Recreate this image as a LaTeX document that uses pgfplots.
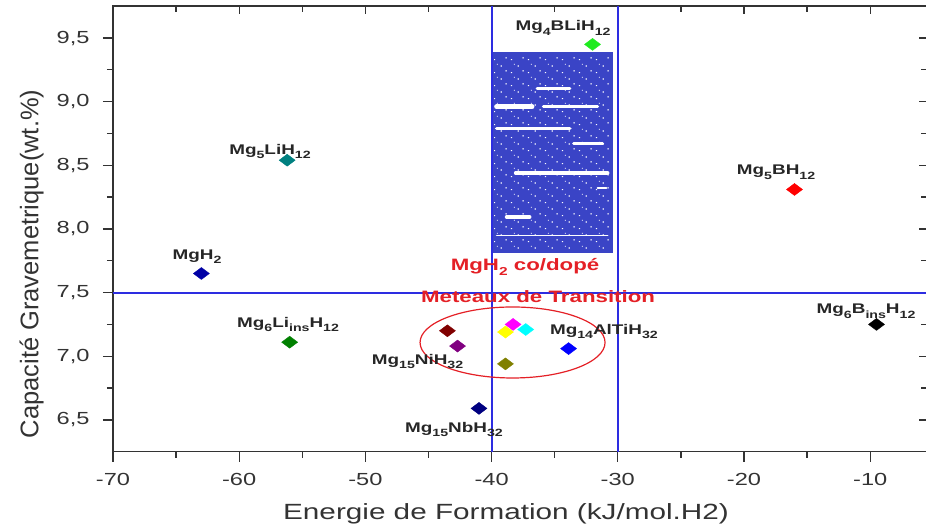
\documentclass[border=0pt]{standalone}
\usepackage{pgfplots}
\pgfplotsset{compat=1.18}
\usepackage{fontspec}
\setmainfont{Liberation Sans}[FakeStretch=1.35]
\newfontfamily\plainsans{Liberation Sans}
\usetikzlibrary{patterns}

\definecolor{guide}{RGB}{45,45,225}
\definecolor{zone}{RGB}{58,68,198}
\definecolor{annot}{RGB}{228,32,38}
\definecolor{cLime}{RGB}{30,235,30}
\definecolor{cTeal}{RGB}{0,128,128}
\definecolor{cDkBlue}{RGB}{0,0,165}
\definecolor{cRed}{RGB}{255,0,0}
\definecolor{cGreen}{RGB}{0,128,0}
\definecolor{cMaroon}{RGB}{128,0,0}
\definecolor{cPurple}{RGB}{128,0,128}
\definecolor{cMagenta}{RGB}{255,0,255}
\definecolor{cYellow}{RGB}{255,255,0}
\definecolor{cCyan}{RGB}{0,255,255}
\definecolor{cBlue}{RGB}{0,0,255}
\definecolor{cOlive}{RGB}{128,128,0}
\definecolor{cNavy}{RGB}{0,0,128}

% subscripts for the formula labels
\newcommand\sub[1]{\raisebox{-0.3em}{\fontsize{10.5}{10}\selectfont #1}}
\newcommand\subR[1]{\raisebox{-0.3em}{\fontsize{11.5}{11}\selectfont #1}}

% sparse white speckles for the shaded zone
\pgfdeclarepatternformonly{speckle}{\pgfpointorigin}{\pgfqpoint{17pt}{13pt}}{\pgfqpoint{17pt}{13pt}}{%
  \pgfpathrectangle{\pgfqpoint{1pt}{2pt}}{\pgfqpoint{1.2pt}{1.2pt}}%
  \pgfpathrectangle{\pgfqpoint{8pt}{9pt}}{\pgfqpoint{1.2pt}{1.2pt}}%
  \pgfpathrectangle{\pgfqpoint{13pt}{4pt}}{\pgfqpoint{1.6pt}{1pt}}%
  \pgfpathrectangle{\pgfqpoint{4pt}{11pt}}{\pgfqpoint{1pt}{1pt}}%
  \pgfusepath{fill}}

\tikzset{
  lbl/.style={font=\fontsize{14}{16}\selectfont\bfseries, text=black!85, inner sep=0pt},
  redlbl/.style={font=\fontsize{16.5}{19}\selectfont\bfseries, text=annot, inner sep=0pt},
}
\pgfplotsset{
  pt/.style={only marks, mark=diamond*, mark size=8pt,
    mark options={rotate=90, draw=#1, fill=#1}},
  frame/.style={scale only axis, width=814pt, height=445.5pt,
    xmin=-70, xmax=-5.5, ymin=6.25, ymax=9.75,
    xtick={-70,-60,-50,-40,-30,-20,-10},
    ytick={6.5,7,7.5,8,8.5,9,9.5},
    minor x tick num=1, minor y tick num=1,
    axis line style={line width=1.4pt, black!80},
    every tick/.style={line width=1.3pt, black!80}},
}

\begin{document}
\begin{tikzpicture}
% inner ticks on the top and right edges
\begin{axis}[frame, name=back, xtick pos=right, ytick pos=right, tick align=inside,
  major tick length=8pt, minor tick length=6pt,
  xticklabels={}, yticklabels={}]
\end{axis}
\begin{axis}[frame, name=main, xtick pos=left, ytick pos=left, tick align=outside,
  major tick length=10pt, minor tick length=6pt,
  xticklabels={-70,-60,-50,-40,-30,-20,-10},
  yticklabels={{6,5},{7,0},{7,5},{8,0},{8,5},{9,0},{9,5}},
  tick label style={font=\fontsize{17.5}{20}\selectfont, text=black!80},
  xticklabel style={yshift=-8pt},
  yticklabel style={xshift=-10pt},
  xlabel={Energie de Formation (kJ/mol.H2)},
  ylabel={Capacité Gravemetrique(wt.\%)},
  xlabel style={font=\fontsize{22}{26}\selectfont, text=black!80, xshift=-14pt, yshift=-11pt},
  ylabel style={font=\plainsans\fontsize{25.5}{30}\selectfont, text=black!80, xshift=-35pt, yshift=6pt},
  clip=false]

% shaded zone
\fill[zone] (axis cs:-40,7.81) rectangle (axis cs:-30.4,9.39);
\fill[pattern=speckle, pattern color=white] (axis cs:-39.8,7.83) rectangle (axis cs:-30.6,9.37);
\begin{scope}[white, line cap=round]
\draw[line width=3pt] (axis cs:-36.4,9.107) -- (axis cs:-33.8,9.107);
\draw[line width=5pt] (axis cs:-39.6,8.96) -- (axis cs:-36.8,8.96);
\draw[line width=3pt] (axis cs:-35.9,8.96) -- (axis cs:-31.6,8.96);
\draw[line width=3.5pt] (axis cs:-39.6,8.79) -- (axis cs:-33.8,8.79);
\draw[line width=3pt] (axis cs:-33.5,8.675) -- (axis cs:-31.2,8.675);
\draw[line width=3.5pt] (axis cs:-38.1,8.44) -- (axis cs:-30.8,8.44);
\draw[line width=2pt] (axis cs:-31.6,8.32) -- (axis cs:-30.9,8.32);
\draw[line width=4pt] (axis cs:-38.8,8.094) -- (axis cs:-37.0,8.094);
\draw[line width=1.5pt] (axis cs:-39.6,7.95) -- (axis cs:-30.8,7.95);
\end{scope}

% guide lines
\draw[guide, line width=1.9pt] (axis cs:-70,7.5) -- (axis cs:-5.5,7.5);
\draw[guide, line width=1.9pt] (axis cs:-40,6.25) -- (axis cs:-40,9.75);
\draw[guide, line width=1.9pt] (axis cs:-30,6.25) -- (axis cs:-30,9.75);

% transition-metal group
\draw[annot, line width=1.2pt] (axis cs:-38.34,7.108) ellipse [x radius=92.5pt, y radius=35.5pt];

% compounds
\addplot[pt=cLime]    coordinates {(-32.0,9.45)};
\addplot[pt=cTeal]    coordinates {(-56.2,8.54)};
\addplot[pt=cDkBlue]  coordinates {(-63.0,7.65)};
\addplot[pt=cRed]     coordinates {(-16.0,8.31)};
\addplot[pt=cGreen]   coordinates {(-56.0,7.11)};
\addplot[pt=black]    coordinates {(-9.5,7.25)};
\addplot[pt=cMaroon]  coordinates {(-43.5,7.20)};
\addplot[pt=cPurple]  coordinates {(-42.7,7.08)};
\addplot[pt=cMagenta] coordinates {(-38.3,7.25)};
\addplot[pt=cYellow]  coordinates {(-38.9,7.19)};
\addplot[pt=cCyan]    coordinates {(-37.3,7.21)};
\addplot[pt=cBlue]    coordinates {(-33.9,7.06)};
\addplot[pt=cOlive]   coordinates {(-38.9,6.94)};
\addplot[pt=cNavy]    coordinates {(-41.0,6.59)};

% labels
\node[lbl] at (axis cs:-34.34,9.58) {Mg\sub{4}BLiH\sub{12}};
\node[lbl] at (axis cs:-57.56,8.61) {Mg\sub{5}LiH\sub{12}};
\node[lbl] at (axis cs:-63.34,7.785) {MgH\sub{2}};
\node[lbl] at (axis cs:-17.46,8.445) {Mg\sub{5}BH\sub{12}};
\node[lbl] at (axis cs:-56.13,7.25) {Mg\sub{6}Li\sub{ins}H\sub{12}};
\node[lbl] at (axis cs:-10.33,7.353) {Mg\sub{6}B\sub{ins}H\sub{12}};
\node[lbl] at (axis cs:-31.1,7.196) {Mg\sub{14}AlTiH\sub{32}};
\node[lbl] at (axis cs:-45.87,6.96) {Mg\sub{15}NiH\sub{32}};
\node[lbl] at (axis cs:-42.98,6.426) {Mg\sub{15}NbH\sub{32}};
\node[redlbl] at (axis cs:-37.35,7.70) {MgH\subR{2} co/dopé};
\node[redlbl] at (axis cs:-36.32,7.466) {Meteaux de Transition};
\end{axis}
\pgfresetboundingbox
\path[use as bounding box] ([xshift=-113pt,yshift=-78pt]main.south west) rectangle ([xshift=-1pt,yshift=6.2pt]main.north east);
\end{tikzpicture}
\end{document}
